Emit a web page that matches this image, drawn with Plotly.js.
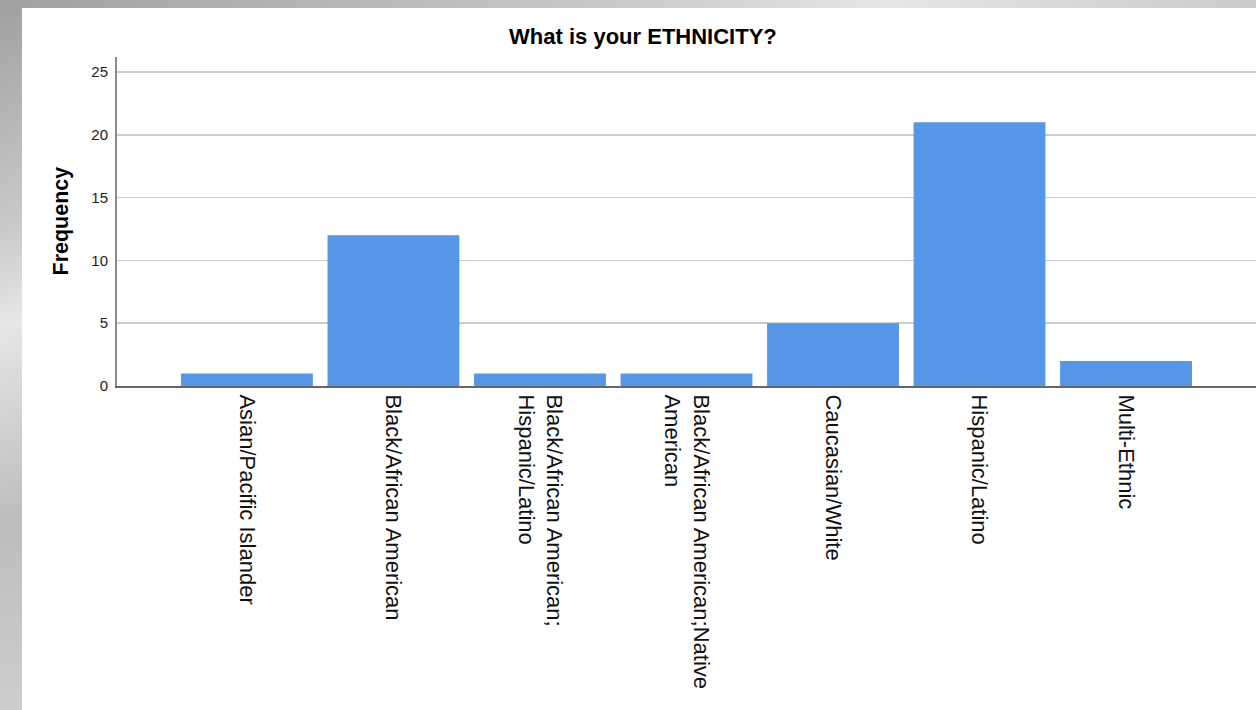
<!DOCTYPE html>
<html>
<head>
<meta charset="utf-8">
<script src="https://cdn.plot.ly/plotly-3.0.1.min.js"></script>
<style>
  html, body { margin: 0; padding: 0; width: 1256px; height: 710px; overflow: hidden; }
  body {
    background: linear-gradient(160deg, #a0a0a0 0%, #cacaca 20%, #e6e6e6 28%, #bdbdbd 45%, #d6d6d6 70%, #e4e4e4 100%);
    position: relative;
  }
  #chart { position: absolute; left: 22px; top: 8px; width: 1234px; height: 702px; background: #ffffff; }
</style>
</head>
<body>
<div id="chart"></div>
<script>
const categories = [
  "Asian/Pacific Islander",
  "Black/African American",
  "Black/African American; Hispanic/Latino",
  "Black/African American;Native American",
  "Caucasian/White",
  "Hispanic/Latino",
  "Multi-Ethnic"
];
const tickLabels = [
  "Asian/Pacific Islander",
  "Black/African American",
  "Black/African American;<br>Hispanic/Latino",
  "Black/African American;Native<br>American",
  "Caucasian/White",
  "Hispanic/Latino",
  "Multi-Ethnic"
];
const frequency = [1, 12, 1, 1, 5, 21, 2];
const yTicks = [0, 5, 10, 15, 20, 25];

const FONT = '"Liberation Sans", Arial, sans-serif';

const trace = {
  type: 'bar',
  x: categories,
  y: frequency,
  width: 0.9,
  marker: { color: '#5596e6', line: { width: 0 } },
  hoverinfo: 'x+y'
};

const layout = {
  width: 1234,
  height: 702,
  paper_bgcolor: '#ffffff',
  plot_bgcolor: '#ffffff',
  margin: { l: 95, r: 0, t: 49, b: 323.5, pad: 0 },
  showlegend: false,
  font: { family: FONT, color: '#000000' },
  title: {
    text: '<b>What is your ETHNICITY?</b>',
    font: { family: FONT, size: 22, color: '#000000' },
    xref: 'container', x: 0.5032, xanchor: 'center',
    yref: 'container', y: 0.960, yanchor: 'middle'
  },
  xaxis: {
    type: 'category',
    range: [-0.887, 6.887],
    tickvals: categories,
    ticktext: tickLabels,
    tickangle: 90,
    tickfont: { family: FONT, size: 22, color: '#111111' },
    ticklabelstandoff: 2,
    showgrid: false,
    showline: true,
    linecolor: '#666666',
    linewidth: 2,
    ticks: '',
    zeroline: false,
    fixedrange: true
  },
  yaxis: {
    range: [0, 26.2],
    tickvals: yTicks,
    tickfont: { family: FONT, size: 15, color: '#222222' },
    showgrid: true,
    gridcolor: '#cccccc',
    gridwidth: 1.6,
    showline: true,
    linecolor: '#8a8a8a',
    linewidth: 2,
    ticks: '',
    ticklabelstandoff: 4,
    zeroline: false,
    fixedrange: true
  },
  annotations: [{
    text: '<b>Frequency</b>',
    xref: 'paper', yref: 'paper',
    x: 0, y: 0.5,
    xanchor: 'center', yanchor: 'middle',
    xshift: -57,
    textangle: -90,
    showarrow: false,
    font: { family: FONT, size: 21.5, color: '#000000' }
  }]
};

Plotly.newPlot('chart', [trace], layout, { displayModeBar: false, staticPlot: true });
</script>
</body>
</html>
